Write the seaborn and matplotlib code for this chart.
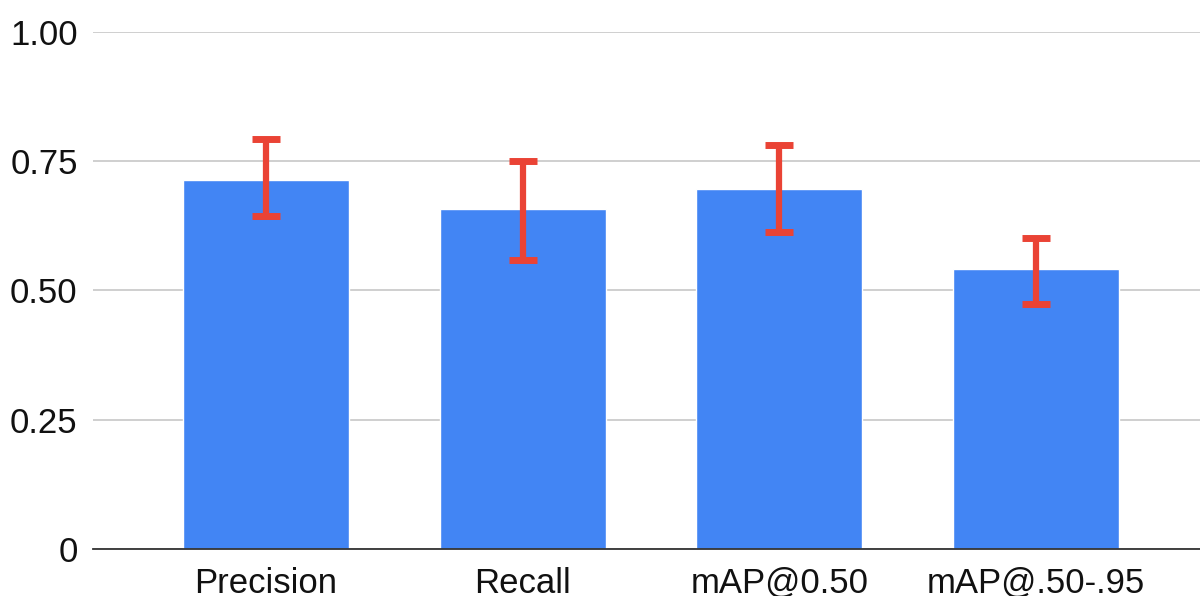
import pandas as pd
import matplotlib
matplotlib.use("Agg")
import matplotlib.pyplot as plt
import seaborn as sns

metrics = ["Precision", "Recall", "mAP@0.50", "mAP@.50-.95"]
scores = [0.713, 0.657, 0.696, 0.541]
err_low = [0.644, 0.559, 0.613, 0.474]
err_high = [0.793, 0.750, 0.782, 0.602]
y_ticks = [0, 0.25, 0.50, 0.75, 1.00]
y_tick_labels = ["0", "0.25", "0.50", "0.75", "1.00"]

df = pd.DataFrame({"metric": metrics, "score": scores,
                   "low": err_low, "high": err_high})

sns.set_style("white")
plt.rcParams["font.family"] = ["Liberation Sans", "DejaVu Sans"]

fig = plt.figure(figsize=(12, 5.96), dpi=100)
ax = fig.add_axes([0.0775, 0.0789, 0.9225, 0.8674])

sns.barplot(data=df, x="metric", y="score", color="#4285F4", saturation=1,
            width=0.646, errorbar=None, ax=ax, zorder=2)
yerr = [df["score"] - df["low"], df["high"] - df["score"]]
ax.errorbar(range(len(metrics)), df["score"], yerr=yerr, fmt="none",
            ecolor="#EA4335", elinewidth=4.5, capsize=10, capthick=5, zorder=3)

ax.set_ylim(0, 1.0)
ax.set_xlim(-0.674, 3.639)
ax.set_yticks(y_ticks)
ax.set_yticklabels(y_tick_labels)
ax.yaxis.grid(True, color="#cccccc", linewidth=1.3, zorder=0)
ax.set_axisbelow(True)
ax.tick_params(axis="both", length=0, labelsize=25, colors="#111111")
ax.tick_params(axis="y", pad=11)
ax.tick_params(axis="x", pad=13)
ax.set_xlabel("")
ax.set_ylabel("")
for side in ["top", "right", "left"]:
    ax.spines[side].set_visible(False)
ax.spines["bottom"].set_color("#333333")
ax.spines["bottom"].set_linewidth(1.3)
ax.spines["bottom"].set_zorder(4)

fig.savefig("out.png", dpi=100)
